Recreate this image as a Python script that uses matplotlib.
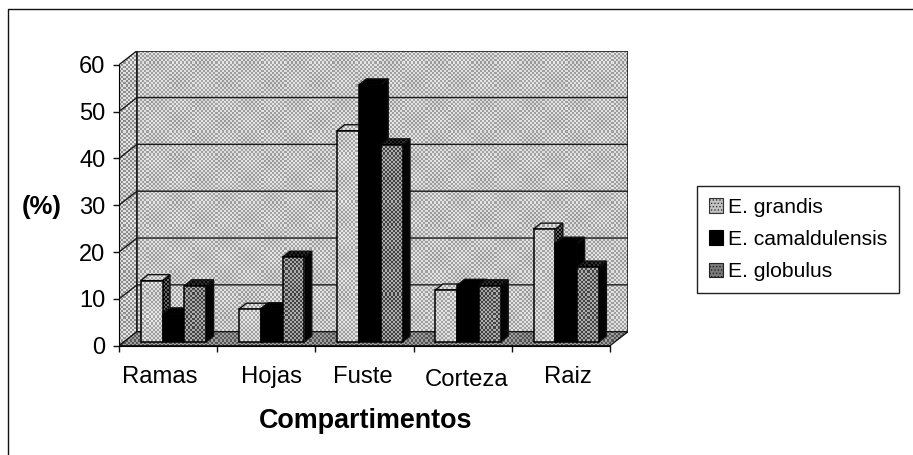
import numpy as np
import matplotlib
matplotlib.use("Agg")
import matplotlib.pyplot as plt
from matplotlib.lines import Line2D
from matplotlib.patches import Polygon, Patch
from matplotlib.transforms import ScaledTranslation

plt.rcParams['font.family'] = ['Liberation Sans', 'DejaVu Sans']
plt.rcParams['hatch.linewidth'] = 0.6

categories = ['Ramas', 'Hojas', 'Fuste', 'Corteza', 'Raiz']
series_names = ['E. grandis', 'E. camaldulensis', 'E. globulus']
e_grandis = [13.1, 7.0, 45.1, 11.1, 24.1]
e_camaldulensis = [6.0, 7.1, 54.9, 12.1, 21.1]
e_globulus = [12.0, 18.1, 42.1, 12.0, 16.0]
y_ticks = [0, 10, 20, 30, 40, 50, 60]

W, H = 913, 455
L, R, T, B = 119.0, 628.0, 50.7, 345.7     # axes box, px
PX_X = 98.2                                # px per category
PX_Y = 4.68                                # px per y unit
WALL_DX, WALL_DY = 18 / PX_X, 14 / PX_Y
BAR_W = 21.8 / PX_X
BAR_START = 21.7 / PX_X
BAR_BASE = 3.7 / PX_Y
DEPTH_DX, DEPTH_DY = 7.5 / PX_X, 6 / PX_Y
LABEL_POS = [0.417, 1.548, 2.48, 3.54, 4.572]

fig = plt.figure(figsize=(W / 100, H / 100), dpi=100, facecolor='white')
ax = fig.add_axes([L / W, 1 - B / H, (R - L) / W, (B - T) / H])
XMAX, YMAX = 5 + WALL_DX, 60 + WALL_DY
EXT = (0, XMAX, 0, YMAX)

ny, nx = int(round(B - T)), int(round(R - L))
yy, xx = np.mgrid[0:ny, 0:nx]
# photocopied halftone: a screen of about 2 px cells that beats with the pixel grid
checker = np.sign(np.sin(np.pi * xx / 2.09 + 0.3) * np.sin(np.pi * yy / 2.09 + 0.3))
beat = np.sin(2 * np.pi * xx / 47.0) * np.sin(2 * np.pi * yy / 39.0)


def textured(patch, level, amp, z):
    """Fill a patch with a halftone screen of mean grey `level`."""
    patch.set_zorder(z + 0.1)
    patch.set_facecolor('none')
    if patch.axes is None:
        ax.add_patch(patch)
    field = level + amp * checker + (0.025 * beat if amp else 0)
    im = ax.imshow(np.clip(field, 0, 1), cmap='gray', vmin=0, vmax=1,
                   extent=EXT, aspect='auto', interpolation='nearest',
                   origin='lower', zorder=z)
    im.set_clip_path(patch)


def poly(pts, level, amp, z, lw=1.0):
    p = Polygon(pts, closed=True, edgecolor='#111111', linewidth=lw)
    textured(p, level, amp, z)


# walls and floor
poly([(0, 0), (WALL_DX, WALL_DY), (WALL_DX, YMAX), (0, 60)], 0.72, 0.16, 1, 0.9)
poly([(WALL_DX, WALL_DY), (XMAX, WALL_DY), (XMAX, YMAX), (WALL_DX, YMAX)], 0.75, 0.13, 1.2, 1.1)
poly([(0, 0), (5, 0), (XMAX, WALL_DY), (WALL_DX, WALL_DY)], 0.47, 0.14, 1.4, 0.9)

for v in y_ticks[1:-1]:
    ax.plot([0, WALL_DX, XMAX], [v, v + WALL_DY, v + WALL_DY], color='#1a1a1a', lw=1.0, zorder=2)

# bars
z = 3
all_values = [e_grandis, e_camaldulensis, e_globulus]
front_style = [(0.76, 0.13), (0.0, 0.0), (0.47, 0.20)]
top_style = [(0.76, 0.13), (0.0, 0.0), (0.10, 0.08)]
side_style = [(0.22, 0.18), (0.0, 0.0), (0.02, 0.0)]
for c in range(len(categories)):
    for s, vals in enumerate(all_values):
        x0 = c + BAR_START + s * BAR_W
        x1 = x0 + BAR_W
        top = BAR_BASE + vals[c]
        poly([(x1, BAR_BASE), (x1 + DEPTH_DX, BAR_BASE + DEPTH_DY),
              (x1 + DEPTH_DX, top + DEPTH_DY), (x1, top)], *side_style[s], z)
        poly([(x0, top), (x1, top), (x1 + DEPTH_DX, top + DEPTH_DY),
              (x0 + DEPTH_DX, top + DEPTH_DY)], *top_style[s], z + 0.2)
        rect = ax.bar(x0, vals[c], BAR_W, bottom=BAR_BASE, align='edge',
                      edgecolor='black', linewidth=1.1)[0]
        textured(rect, *front_style[s], z + 0.4)
        z += 1

ax.set_xlim(0, XMAX)
ax.set_ylim(0, YMAX)
for name in ('top', 'right'):
    ax.spines[name].set_visible(False)
ax.spines['left'].set_bounds(0, 60)
ax.spines['bottom'].set_bounds(0, 5)
ax.patch.set_visible(False)

ax.set_yticks(y_ticks)
ax.tick_params(axis='y', labelsize=17, length=4.3, width=1, pad=5.5, color='#111111')
ax.set_xticks(range(6))
ax.set_xticklabels([])
ax.tick_params(axis='x', which='major', length=4.5, width=1, color='#111111')
ax.set_xticks(LABEL_POS, categories, minor=True)
ax.tick_params(axis='x', which='minor', length=0, pad=14.5, labelsize=17.2)
corteza = ax.get_xticklabels(minor=True)[3]
corteza.set_transform(corteza.get_transform() + ScaledTranslation(0, -3 / 100, fig.dpi_scale_trans))

fig.text(365.5 / W, 1 - 421 / H, 'Compartimentos', ha='center', va='center',
         fontsize=19.4, fontweight='bold', color='black')
fig.text(42 / W, 1 - 207 / H, '(%)', ha='center', va='center',
         fontsize=18.5, fontweight='bold', color='black')

# legend
handles = [Patch(facecolor='#c4c4c4', edgecolor='#333333', hatch='.....', linewidth=0.8),
           Patch(facecolor='black', edgecolor='black', linewidth=0.8),
           Patch(facecolor='#7a7a7a', edgecolor='#222222', hatch='.....', linewidth=0.8)]
leg = fig.legend(handles, series_names, loc='center left',
                 bbox_to_anchor=(697 / W, 1 - 239.5 / H), fontsize=15.2, frameon=True,
                 fancybox=False, edgecolor='#222222', framealpha=1,
                 handlelength=0.66, handleheight=0.66, handletextpad=0.28,
                 labelspacing=0.62, borderpad=0.55, borderaxespad=0)
leg.get_frame().set_linewidth(1.0)

# the frame of the scanned page shows only on its top and left
fig.add_artist(Line2D([7.5 / W, 7.5 / W, 1], [0, 1 - 8.5 / H, 1 - 8.5 / H],
                      transform=fig.transFigure, color='#111111', linewidth=1.0))

fig.savefig('out.png', dpi=100, facecolor='white')
